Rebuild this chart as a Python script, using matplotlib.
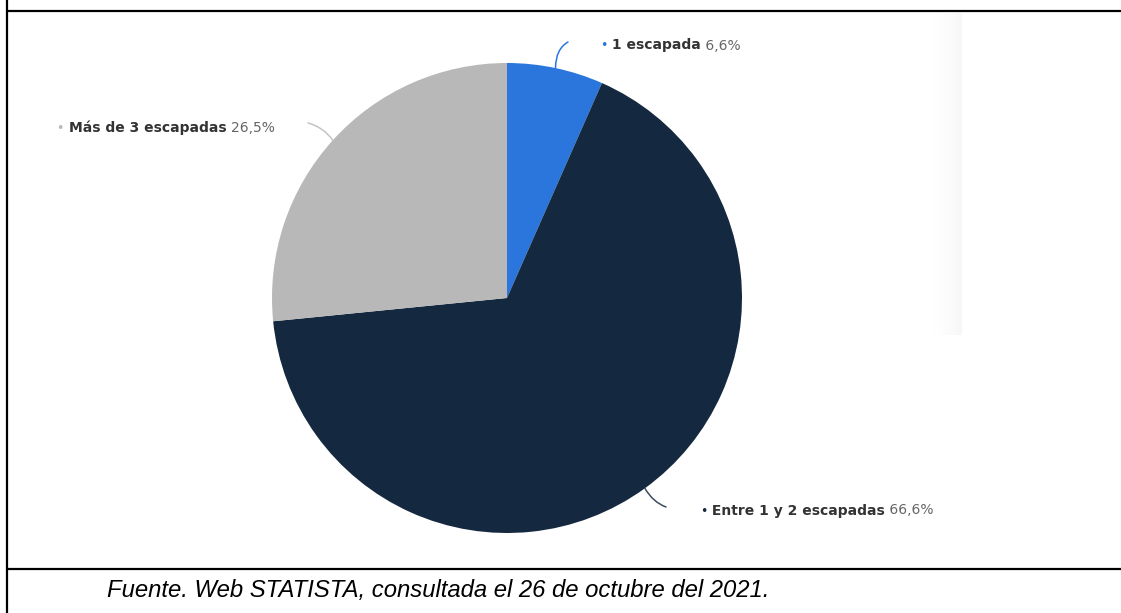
import numpy as np
import matplotlib.pyplot as plt

categories = ['1 escapada', 'Entre 1 y 2 escapadas', 'Más de 3 escapadas']
values = [6.6, 66.6, 26.5]
value_labels = ['6,6%', '66,6%', '26,5%']
colors = ['#2a76dd', '#14283f', '#b8b8b8']
leader_colors = ['#2a76dd', '#3c4c60', '#c4c4c4']

W, H = 1121, 613
fig = plt.figure(figsize=(W / 100, H / 100), dpi=100)

# background axes in pixel units: table frame, shadow, caption
bg = fig.add_axes([0, 0, 1, 1])
bg.set_xlim(0, W)
bg.set_ylim(H, 0)
bg.axis('off')
bg.plot([7, W], [11, 11], color='black', lw=1.6, solid_capstyle='butt')
bg.plot([7, W], [569, 569], color='black', lw=1.6, solid_capstyle='butt')
bg.plot([7, 7], [0, H], color='black', lw=1.6, solid_capstyle='butt')

grad = np.linspace(0, 1, 50)[None, :] ** 2
bg.imshow(grad, cmap='Greys', vmin=0, vmax=14, extent=[926, 962, 335, 13],
          aspect='auto', interpolation='bilinear')
bg.set_xlim(0, W)
bg.set_ylim(H, 0)

bg.text(107, 591, 'Fuente. Web STATISTA, consultada el 26 de octubre del 2021.',
        fontsize=17.2, fontstyle='italic', family='Liberation Sans',
        ha='left', va='center', color='black')

# pie axes: centre (507, 298), radius 235 px
cx, cy, r = 507, 298, 235
ax = fig.add_axes([(cx - r) / W, (H - cy - r) / H, 2 * r / W, 2 * r / H])
wedges, _ = ax.pie(values, colors=colors, startangle=90, counterclock=False,
                   radius=1, wedgeprops=dict(linewidth=0))
ax.set_xlim(-1, 1)
ax.set_ylim(-1, 1)


def px(x, y):
    return ((x - cx) / r, (cy - y) / r)


# leader end points and label anchors (pixels)
leader_ends = [(568, 42), (666, 507), (308, 123)]
leader_angles = [(30, 90), (-20, -60), (-15, -55)]
label_pos = [(600, 46), (700, 511), (275, 128)]
label_ha = ['left', 'left', 'right']
fs = 10

for i, w in enumerate(wedges):
    mid = np.deg2rad((w.theta1 + w.theta2) / 2)
    edge = (np.cos(mid), np.sin(mid))
    aA, aB = leader_angles[i]
    ax.annotate('', xy=edge, xytext=px(*leader_ends[i]), annotation_clip=False,
                arrowprops=dict(arrowstyle='-', color=leader_colors[i], lw=1.1,
                                shrinkA=0, shrinkB=0,
                                connectionstyle=f'angle3,angleA={aA},angleB={aB}'))

fig.canvas.draw()
for i in range(len(categories)):
    x, y = label_pos[i]
    if label_ha[i] == 'left':
        t0 = ax.text(*px(x, y), '•', color=colors[i], fontsize=9, ha='left',
                     va='center', clip_on=False)
        t1 = ax.annotate(' ' + categories[i], xy=(1, 0), xycoords=t0,
                         fontsize=fs, fontweight='bold', color='#333333',
                         va='bottom', ha='left')
        ax.annotate(' ' + value_labels[i], xy=(1, 0), xycoords=t1,
                    fontsize=fs, color='#666666', va='bottom', ha='left')
    else:
        t2 = ax.text(*px(x, y), value_labels[i], color='#666666', fontsize=fs,
                     ha='right', va='center', clip_on=False)
        t1 = ax.annotate(categories[i] + ' ', xy=(0, 0), xycoords=t2,
                         fontsize=fs, fontweight='bold', color='#333333',
                         va='bottom', ha='right')
        ax.annotate('• ', xy=(0, 0), xycoords=t1, fontsize=9,
                    color=colors[i], va='bottom', ha='right')

fig.savefig('out.png', dpi=100)
